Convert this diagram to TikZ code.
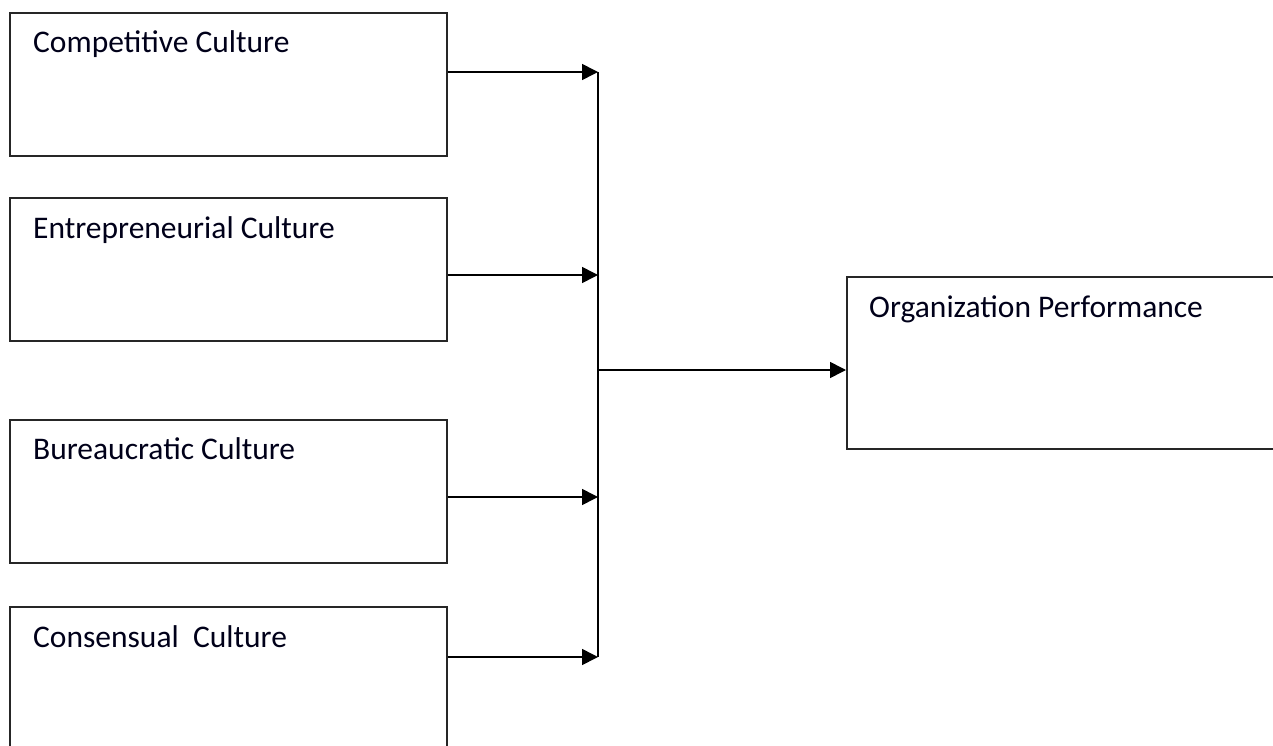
\documentclass[tikz,border=0pt]{standalone}
\usepackage{fontspec}
\setmainfont{Carlito}
\usetikzlibrary{arrows.meta,calc}
\begin{document}
\begin{tikzpicture}[x=1pt,y=-1pt,
  box/.style={draw=black!85,line width=1.7pt,rectangle,inner sep=0pt,anchor=north west},
  lbl/.style={anchor=base west,inner sep=0pt,font=\fontsize{31.5}{34}\selectfont,text=black!90!blue},
  conn/.style={line width=1.6pt,-{Triangle[length=16pt,width=16pt]}},
  bus/.style={line width=1.6pt}]
\useasboundingbox (0,0) rectangle (1273,746);
\clip (0,0) rectangle (1273,746);
\node[box,minimum width=437pt,minimum height=143pt] (c1) at (9,12) {};
\node[box,minimum width=437pt,minimum height=143pt] (c2) at (9,197) {};
\node[box,minimum width=437pt,minimum height=143pt] (c3) at (9,419) {};
\node[box,minimum width=437pt,minimum height=143pt] (c4) at (9,606) {};
\node[box,minimum width=450pt,minimum height=172pt] (perf) at (846,276) {};
\node[lbl] (t1) at ($(c1.north west)+(24,41)$) {Competitive Culture};
\node[lbl] (t2) at ($(c2.north west)+(24,41)$) {Entrepreneurial Culture};
\node[lbl] (t3) at ($(c3.north west)+(24,40)$) {Bureaucratic Culture};
\node[lbl] (t4) at ($(c4.north west)+(24,41)$) {Consensual\ \ Culture};
\node[lbl] (t5) at ($(perf.north west)+(23,41)$) {Organization Performance};
\coordinate (j1) at (598,72);
\coordinate (j2) at (598,275);
\coordinate (j3) at (598,497);
\coordinate (j4) at (598,657);
\coordinate (jm) at (598,370);
\draw[conn] (c1.east |- j1) -- (j1);
\draw[conn] (c2.east |- j2) -- (j2);
\draw[conn] (c3.east |- j3) -- (j3);
\draw[conn] (c4.east |- j4) -- (j4);
\draw[bus] (j1) -- (j4);
\draw[conn] (jm) -- (perf.west |- jm);
\end{tikzpicture}
\end{document}
